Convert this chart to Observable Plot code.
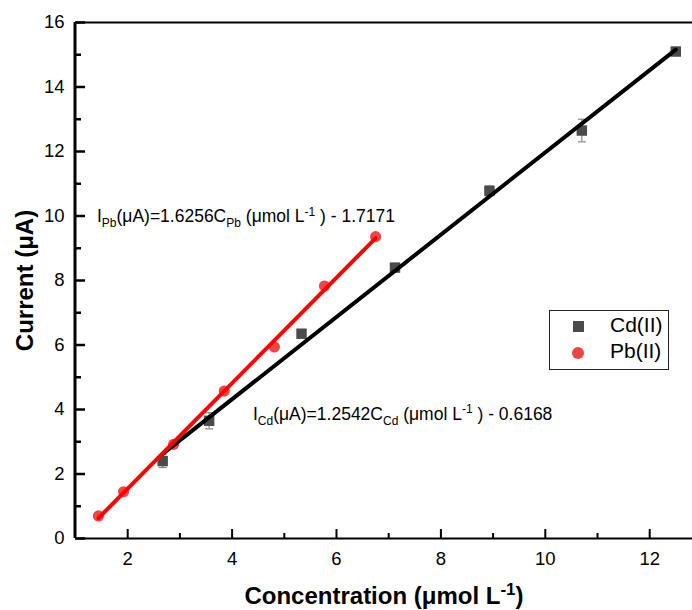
<!DOCTYPE html>
<html><head><meta charset="utf-8">
<script src="https://cdn.jsdelivr.net/npm/d3@7"></script>
<script src="https://cdn.jsdelivr.net/npm/@observablehq/plot@0.6"></script>
<style>
body{margin:0;background:#fff;font-family:"Liberation Sans",Arial,sans-serif}
#wrap{position:relative;width:692px;height:610px;overflow:hidden}
#legend{position:absolute;left:549px;top:310px;width:118px;height:58px;border:1px solid #222;background:#fff;font-size:21px;color:#000}
#legend .sym{position:absolute}
#legend .lab{position:absolute;left:60px}
</style>
</head><body><div id="wrap"></div>
<script>
// Data
const cdConc    = [2.67, 3.56, 5.33, 7.12, 8.93, 10.70, 12.50];
const cdCurrent = [2.40, 3.65, 6.35, 8.40, 10.78, 12.65, 15.10];
const cdError   = [0.20, 0.25, 0.08, 0.12, 0.15, 0.35, 0.08];
const pbConc    = [1.44, 1.92, 2.88, 3.85, 4.81, 5.77, 6.75];
const pbCurrent = [0.70, 1.45, 2.92, 4.57, 5.94, 7.83, 9.36];
const xMajorTicks = [2, 4, 6, 8, 10, 12];
const xMinorTicks = [3, 5, 7, 9, 11];
const yMajorTicks = [0, 2, 4, 6, 8, 10, 12, 14, 16];
const yMinorTicks = [1, 3, 5, 7, 9, 11, 13, 15];
const seriesNames = ["Cd(II)", "Pb(II)"];
const annotKeys = ["EQ_PB", "EQ_CD"];
const annotX = [1.41, 4.40];
const annotY = [9.98, 3.85];
const annotSegments = [
  [["I",""],["Pb","sub"],["(μA)=1.6256C",""],["Pb","sub"],[" (μmol L",""],["-1","sup"],[" ) - 1.7171",""]],
  [["I",""],["Cd","sub"],["(μA)=1.2542C",""],["Cd","sub"],[" (μmol L",""],["-1","sup"],[" ) - 0.6168",""]]
];
const xTitleSegments = [["Concentration (μmol L",""],["-1","sup"],[")",""]];
const yTitle = "Current (μA)";

const cd = cdConc.map((x, i) => ({x, y: cdCurrent[i], lo: cdCurrent[i] - cdError[i], hi: cdCurrent[i] + cdError[i]}));
const pb = pbConc.map((x, i) => ({x, y: pbCurrent[i]}));
const annots = annotKeys.map((k, i) => ({k, x: annotX[i], y: annotY[i]}));

const W = 692, H = 610, mL = 75, mR = 0, mT = 22, mB = 72;
const fw = W - mL - mR, fh = H - mT - mB;

const capSymbol = {draw(ctx, size) { const w = Math.sqrt(size / Math.PI); ctx.moveTo(-w, 0); ctx.lineTo(w, 0); }};

const plot = Plot.plot({
  width: W, height: H,
  marginLeft: mL, marginRight: mR, marginTop: mT, marginBottom: mB,
  style: {fontFamily: '"Liberation Sans", Arial, sans-serif', fontSize: "18px", color: "#000", background: "#fff"},
  x: {domain: [1, 12.82], axis: null},
  y: {domain: [0, 16], axis: null},
  marks: [
    // error bars
    Plot.ruleX(cd, {x: "x", y1: "lo", y2: "hi", stroke: "#888", strokeWidth: 1.2}),
    Plot.dot(cd, {x: "x", y: "lo", symbol: capSymbol, r: 4, stroke: "#888", strokeWidth: 1.2}),
    Plot.dot(cd, {x: "x", y: "hi", symbol: capSymbol, r: 4, stroke: "#888", strokeWidth: 1.2}),
    // points
    Plot.dot(cd, {x: "x", y: "y", symbol: "square", r: 5.9, fill: "#4b4b4b", stroke: "none"}),
    Plot.dot(pb, {x: "x", y: "y", symbol: "circle", r: 5.6, fill: "#f04545", stroke: "none"}),
    // fits
    Plot.linearRegressionY(cd, {x: "x", y: "y", ci: 0, stroke: "#000", strokeWidth: 4}),
    Plot.linearRegressionY(pb, {x: "x", y: "y", ci: 0, stroke: "#ff0000", strokeWidth: 4}),
    // tick labels and titles
    Plot.text(xMajorTicks, {x: d => d, frameAnchor: "bottom", lineAnchor: "middle", dy: 21, text: d => String(d), fontSize: 18.5}),
    Plot.text(yMajorTicks, {y: d => d, frameAnchor: "left", lineAnchor: "middle", dx: -11, textAnchor: "end", text: d => String(d), fontSize: 18.5}),
    Plot.text(annots, {x: "x", y: "y", text: "k", textAnchor: "start", lineAnchor: "middle", fontSize: 17.5}),
    Plot.text(["XTITLE"], {frameAnchor: "bottom", lineAnchor: "middle", textAnchor: "middle", dy: 58, text: d => d, fontSize: 24, fontWeight: "bold"}),
    Plot.text([yTitle], {frameAnchor: "left", lineAnchor: "middle", textAnchor: "middle", dx: -50, rotate: -90, text: d => d, fontSize: 24, fontWeight: "bold"}),
    // frame and ticks (on top)
    Plot.ruleY([16], {stroke: "#000", strokeWidth: 2}),
    Plot.ruleY([0], {stroke: "#000", strokeWidth: 2}),
    Plot.ruleX([1], {stroke: "#000", strokeOpacity: 1, strokeWidth: 3, dx: -0.5}),
    Plot.tickX(xMajorTicks, {x: d => d, insetTop: fh - 9, stroke: "#000", strokeWidth: 2}),
    Plot.tickX(xMinorTicks, {x: d => d, insetTop: fh - 5, stroke: "#000", strokeWidth: 2}),
    Plot.tickY(yMajorTicks, {y: d => d, insetRight: fw - 10, stroke: "#000", strokeOpacity: 1, strokeWidth: 2.5}),
    Plot.tickY(yMinorTicks, {y: d => d, insetRight: fw - 6, stroke: "#000", strokeOpacity: 1, strokeWidth: 2.5})
  ]
});

function fillSegments(el, segs, base) {
  el.textContent = "";
  let shift = 0;
  for (const [s, kind] of segs) {
    const t = document.createElementNS("http://www.w3.org/2000/svg", "tspan");
    t.textContent = s;
    let target = 0;
    if (kind === "sub") { target = base * 0.28; t.setAttribute("font-size", Math.round(base * 0.7)); }
    if (kind === "sup") { target = -base * 0.38; t.setAttribute("font-size", Math.round(base * 0.7)); }
    t.setAttribute("dy", (target - shift).toFixed(2));
    shift = target;
    el.appendChild(t);
  }
}
plot.querySelectorAll("text").forEach(el => {
  const i = annotKeys.indexOf(el.textContent);
  if (i >= 0) fillSegments(el, annotSegments[i], 17.5);
  else if (el.textContent === "XTITLE") fillSegments(el, xTitleSegments, 24);
});

const wrap = document.getElementById("wrap");
wrap.appendChild(plot);

// legend
const legend = document.createElement("div");
legend.id = "legend";
const syms = [
  `<div class="sym" style="left:23px;top:10px;width:11px;height:11px;background:#4b4b4b"></div>`,
  `<div class="sym" style="left:22px;top:36px;width:12px;height:12px;border-radius:50%;background:#f04545"></div>`
];
legend.innerHTML = seriesNames.map((n, i) =>
  syms[i] + `<div class="lab" style="top:${3 + i * 26}px;line-height:22px">${n}</div>`).join("");
wrap.appendChild(legend);
</script>
</body></html>
